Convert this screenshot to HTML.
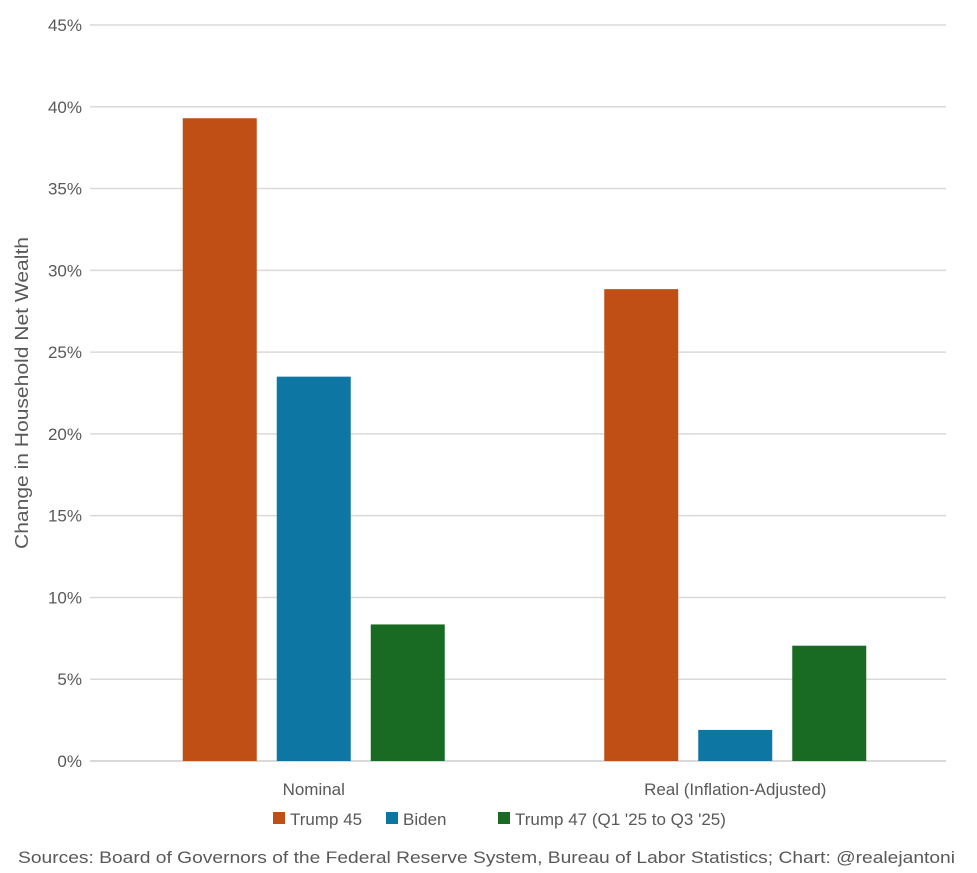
<!DOCTYPE html>
<html><head><meta charset="utf-8"><style>
html,body{margin:0;padding:0;background:#fff;}
svg{display:block;font-family:"Liberation Sans",sans-serif;}
</style></head><body>
<svg id="chart" width="977" height="873">
  <g id="grid"></g>
  <g id="ylabels"></g>
  <g id="bars"></g>
  <g id="xlabels"></g>
  <text transform="translate(28,393) rotate(-90)" text-anchor="middle" font-size="18" fill="#595959" textLength="312" lengthAdjust="spacingAndGlyphs">Change in Household Net Wealth</text>
  <g id="legend"></g>
  <text x="18" y="863" font-size="17" fill="#595959" textLength="937" lengthAdjust="spacingAndGlyphs">Sources: Board of Governors of the Federal Reserve System, Bureau of Labor Statistics; Chart: @realejantoni</text>
</svg>
<script>
const categories = ["Nominal", "Real (Inflation-Adjusted)"];
const seriesNames = ["Trump 45", "Biden", "Trump 47 (Q1 '25 to Q3 '25)"];
const trump45 = [39.3, 28.85];
const biden = [23.5, 1.9];
const trump47 = [8.35, 7.05];
const yTicks = [0, 5, 10, 15, 20, 25, 30, 35, 40, 45];
const colors = ["#C04F15", "#0E76A3", "#196B24"];

const NS = "http://www.w3.org/2000/svg";
const plotL = 103, plotR = 946, y0 = 761, yTop = 25, yMax = 45;
function yScale(v){ return y0 - (v / yMax) * (y0 - yTop); }
function xCenter(i){ const w = (plotR - plotL) / categories.length; return plotL + w * (i + 0.5); }
function mk(tag, attrs, parent){ const e = document.createElementNS(NS, tag); for (const k in attrs) e.setAttribute(k, attrs[k]); parent.appendChild(e); return e; }

const grid = document.getElementById("grid"), yl = document.getElementById("ylabels");
yTicks.forEach(t => {
  const ln = mk("line", {x1: 90, x2: plotR, y1: yScale(t), y2: yScale(t), stroke: "#d9d9d9", "stroke-width": t === 0 ? 2 : 1.5}, grid);
  
  
  const tx = mk("text", {x: 82, y: yScale(t) + 6, "text-anchor": "end", "font-size": 17, fill: "#595959"}, yl);
  tx.textContent = t + "%";
  
  
});

const series = [trump45, biden, trump47];
const bw = 74, gap = 20;
const bars = document.getElementById("bars"), xl = document.getElementById("xlabels");
categories.forEach((c, i) => {
  const cx = xCenter(i);
  const start = cx - (3 * bw + 2 * gap) / 2;
  series.forEach((s, j) => {
    const r = mk("rect", {x: start + j * (bw + gap), y: yScale(s[i]), width: bw, height: y0 - yScale(s[i]), fill: colors[j]}, bars);
    
    
  });
  const t = mk("text", {x: cx, y: 795, "text-anchor": "middle", "font-size": 17, fill: "#595959"}, xl);
  t.textContent = c;
  
  
});

const legend = document.getElementById("legend");
const lx = [273, 386, 498];
seriesNames.forEach((n, j) => {
  const sq = mk("rect", {x: lx[j], y: 812, width: 12, height: 12, fill: colors[j]}, legend);
  
  
  const t = mk("text", {x: lx[j] + 17, y: 825, "font-size": 17, fill: "#595959"}, legend);
  t.textContent = n;
  
  
});
</script>
</body></html>
